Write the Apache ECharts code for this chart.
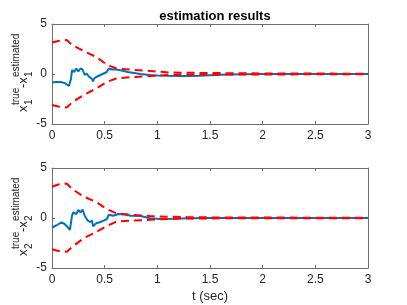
<!DOCTYPE html>
<html>
<head>
<meta charset="utf-8">
<script src="https://cdn.jsdelivr.net/npm/echarts@6/dist/echarts.min.js"></script>
<style>
html,body{margin:0;padding:0;background:#fff;}
#c{width:407px;height:305px;}
</style>
</head>
<body>
<div id="c"></div>
<script>
// ---- data ----
var titleText = 'estimation results';
var xLabelText = 't (sec)';
var xTicks = [0, 0.5, 1, 1.5, 2, 2.5, 3];
var yTicks = [-5, 0, 5];

// top panel: x1 error
var t1 = [0, 0.04, 0.08, 0.12, 0.16, 0.18, 0.19, 0.21, 0.23, 0.25, 0.27, 0.29, 0.31, 0.33, 0.35, 0.38, 0.39, 0.40, 0.42, 0.46, 0.49, 0.52, 0.54, 0.57, 0.61, 0.66, 0.72, 0.78, 0.84, 0.93, 1.0, 1.1, 1.2, 1.3, 1.4, 1.5, 1.6, 1.7, 1.8, 2.0, 2.5, 3.0];
var err1 = [-0.85, -0.8, -0.8, -0.9, -1.2, -0.5, 0.4, 0.2, 0.55, 0.25, 0.55, 0.45, -0.1, 0.05, -0.25, -0.5, -0.75, -0.45, -0.3, -0.1, 0.05, 0.2, 0.55, 0.45, 0.45, 0.35, 0.2, 0.1, 0.0, -0.1, -0.15, -0.18, -0.2, -0.2, -0.17, -0.12, -0.08, -0.05, -0.02, 0, 0, 0];

// bottom panel: x2 error
var t2 = [0, 0.04, 0.09, 0.12, 0.15, 0.17, 0.19, 0.2, 0.23, 0.25, 0.27, 0.29, 0.31, 0.34, 0.36, 0.38, 0.39, 0.42, 0.46, 0.49, 0.52, 0.54, 0.58, 0.63, 0.7, 0.75, 0.84, 0.93, 1.03, 1.15, 1.3, 1.5, 2.0, 3.0];
var err2 = [-0.95, -0.75, -0.43, -0.6, -0.93, -1.2, 0.23, 0.55, 0.4, 0.8, 0.57, 0.83, 0.23, -0.27, -0.4, -0.27, -0.83, -0.53, -0.4, -0.27, -0.1, 0.33, 0.23, 0.4, 0.33, 0.23, 0.2, -0.03, -0.1, -0.07, -0.02, 0, 0, 0];

// bounds (dashed red)
var tb = [0, 0.06, 0.14, 0.19, 0.3, 0.42, 0.52, 0.61, 0.77, 0.93, 1.12, 1.28, 1.5, 1.8, 2.2, 2.6, 3.0];
var upper1 = [3.15, 3.3, 3.4, 2.9, 2.3, 1.7, 0.95, 0.55, 0.42, 0.3, 0.15, 0.12, 0.1, 0.07, 0.05, 0.04, 0.03];
var lower1 = [-3.1, -3.25, -3.35, -2.85, -2.1, -1.45, -0.8, -0.45, -0.3, -0.2, -0.08, -0.05, -0.05, -0.04, -0.04, -0.03, -0.03];
var upper2 = [3.13, 3.35, 3.45, 2.9, 2.15, 1.6, 0.9, 0.47, 0.3, 0.2, 0.12, 0.09, 0.06, 0.05, 0.04, 0.03, 0.03];
var lower2 = [-3.13, -3.3, -3.37, -2.9, -2.03, -1.4, -0.8, -0.37, -0.25, -0.18, -0.08, -0.05, -0.04, -0.03, -0.03, -0.03, -0.03];

// ---- chart ----
function pairs(t, v) { return t.map(function (x, i) { return [x, v[i]]; }); }

var FONT = '"Liberation Sans", Arial, Helvetica, sans-serif';
var AX = '#262626';
var BOX = '#6e6e6e';
var BLUE = '#0072BD';
var RED = '#FF0000';

var grids = [
  {left: 52, top: 24, width: 316, height: 100},
  {left: 52, top: 168, width: 316, height: 100}
];

function xAxes(gi, withName) {
  var base = {
    type: 'value', gridIndex: gi, min: 0, max: 3, interval: 0.5,
    splitLine: {show: false},
    axisLine: {show: true, onZero: false, lineStyle: {color: BOX, width: 1}},
    axisTick: {show: true, inside: true, length: 3, lineStyle: {color: BOX}}
  };
  var bottom = Object.assign({}, base, {
    position: 'bottom',
    axisLabel: {show: true, color: AX, fontSize: 12, fontFamily: FONT, margin: 6,
      formatter: function (v) { return xTicks.indexOf(v) >= 0 ? String(v) : ''; }}
  });
  if (withName) {
    bottom.name = xLabelText;
    bottom.nameLocation = 'middle';
    bottom.nameGap = 22;
    bottom.nameTextStyle = {color: AX, fontSize: 13, fontFamily: FONT};
  }
  var top = Object.assign({}, base, {position: 'top', axisLabel: {show: false}});
  return [bottom, top];
}
function yAxes(gi) {
  var base = {
    type: 'value', gridIndex: gi, min: -5, max: 5, interval: 5,
    splitLine: {show: false},
    axisLine: {show: true, onZero: false, lineStyle: {color: BOX, width: 1}},
    axisTick: {show: true, inside: true, length: 3, lineStyle: {color: BOX}}
  };
  var left = Object.assign({}, base, {
    position: 'left',
    axisLabel: {show: true, color: AX, fontSize: 12, fontFamily: FONT, margin: 5,
      formatter: function (v) { return yTicks.indexOf(v) >= 0 ? String(v) : ''; }}
  });
  var right = Object.assign({}, base, {position: 'right', axisLabel: {show: false}});
  return [left, right];
}

var xa = xAxes(0, false).concat(xAxes(1, true));
var ya = yAxes(0).concat(yAxes(1));

function lineSeries(xi, yi, data, color, dashed) {
  return {
    type: 'line', xAxisIndex: xi, yAxisIndex: yi, data: data,
    showSymbol: false, symbol: 'none', smooth: false, animation: false,
    clip: true,
    lineStyle: {color: color, width: 2, type: dashed ? [8, 5] : 'solid'}
  };
}

var series = [
  lineSeries(0, 0, pairs(t1, err1), BLUE, false),
  lineSeries(0, 0, pairs(tb, upper1), RED, true),
  lineSeries(0, 0, pairs(tb, lower1), RED, true),
  lineSeries(2, 2, pairs(t2, err2), BLUE, false),
  lineSeries(2, 2, pairs(tb, upper2), RED, true),
  lineSeries(2, 2, pairs(tb, lower2), RED, true)
];

// rotated y-axis labels  x_i^{true} - x_i^{estimated}
function yLabel(idx, dy) {
  var R = Math.PI / 2;
  function piece(txt, x, y, size) {
    return {type: 'text', x: x, y: y + dy, rotation: R, silent: true,
      style: {text: txt, fontSize: size, fontFamily: FONT, fill: AX, align: 'left', verticalAlign: 'middle'}};
  }
  return [
    piece('x', 23, 112, 13),
    piece('true', 16.5, 105, 10),
    piece(String(idx), 29.5, 105, 10),
    piece('-x', 23, 88, 13),
    piece('estimated', 16.5, 77, 10),
    piece(String(idx), 29.5, 77, 10)
  ];
}

var option = {
  animation: false,
  backgroundColor: '#fff',
  title: {
    text: titleText, left: 210, top: 5, textAlign: 'center',
    textStyle: {fontSize: 13, fontWeight: 'bold', color: '#000', fontFamily: FONT}
  },
  grid: grids,
  xAxis: xa,
  yAxis: ya,
  series: series,
  graphic: yLabel(1, 0).concat(yLabel(2, 144))
};

var chart = echarts.init(document.getElementById('c'), null, {renderer: 'canvas'});
chart.setOption(option);
</script>
</body>
</html>
